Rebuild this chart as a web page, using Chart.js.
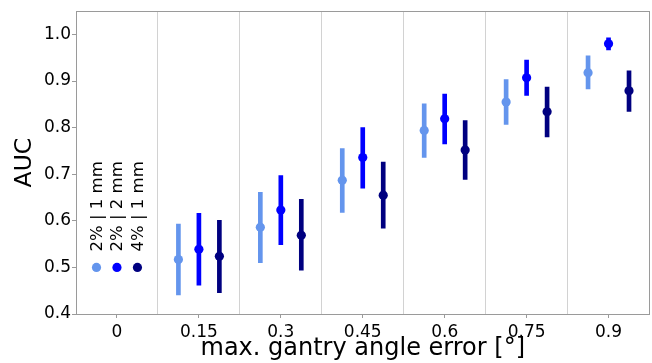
<!DOCTYPE html>
<html>
<head>
<meta charset="utf-8">
<script src="https://cdn.jsdelivr.net/npm/chart.js@4.4.1/dist/chart.umd.min.js"></script>
<style>
  html, body { margin: 0; padding: 0; background: #fff; }
  #wrap { width: 652px; height: 363px; }
</style>
</head>
<body>
<div id="wrap"><canvas id="c" width="652" height="363"></canvas></div>
<script>
// ---- data ----
const categories = ['0', '0.15', '0.3', '0.45', '0.6', '0.75', '0.9'];
const seriesNames = ['2% | 1 mm', '2% | 2 mm', '4% | 1 mm'];
const seriesColors = ['#6495ED', '#0000FF', '#000080'];
// values per category index 1..6 (category "0" has no data)
const auc_2_1 = [null, 0.517, 0.586, 0.687, 0.794, 0.855, 0.918];
const low_2_1 = [null, 0.441, 0.510, 0.618, 0.736, 0.807, 0.883];
const high_2_1 = [null, 0.593, 0.661, 0.755, 0.851, 0.903, 0.954];

const auc_2_2 = [null, 0.539, 0.623, 0.736, 0.819, 0.907, 0.980];
const low_2_2 = [null, 0.462, 0.549, 0.670, 0.765, 0.869, 0.967];
const high_2_2 = [null, 0.616, 0.697, 0.800, 0.872, 0.945, 0.993];

const auc_4_1 = [null, 0.524, 0.569, 0.655, 0.752, 0.834, 0.879];
const low_4_1 = [null, 0.446, 0.494, 0.584, 0.689, 0.780, 0.835];
const high_4_1 = [null, 0.601, 0.646, 0.726, 0.815, 0.887, 0.922];

const yTicks = [0.4, 0.5, 0.6, 0.7, 0.8, 0.9, 1.0];
const legendValue = 0.5;

const series = [
  { mid: auc_2_1, low: low_2_1, high: high_2_1 },
  { mid: auc_2_2, low: low_2_2, high: high_2_2 },
  { mid: auc_4_1, low: low_4_1, high: high_4_1 }
];
const offsets = [-0.25, 0, 0.25];

const datasets = [];
series.forEach((s, k) => {
  const pts = [], bars = [];
  s.mid.forEach((v, i) => {
    if (v === null) return;
    pts.push({ x: i + offsets[k], y: v });
    bars.push({ x: i + offsets[k], y: [s.low[i], s.high[i]] });
  });
  datasets.push({
    type: 'bar', label: seriesNames[k] + ' err', data: bars,
    backgroundColor: seriesColors[k], borderWidth: 0, borderSkipped: false,
    barThickness: 4, grouped: false, order: 2
  });
  datasets.push({
    type: 'scatter', label: seriesNames[k], data: pts,
    backgroundColor: seriesColors[k], borderWidth: 0,
    pointRadius: 4.6, pointHoverRadius: 4.6, order: 1
  });
});

const FONT = 'DejaVu Sans';
const frameColor = '#9a9a9a';

const framePlugin = {
  id: 'frame',
  afterDatasetsDraw(chart) {
    const { ctx, chartArea: a } = chart;
    ctx.save();
    ctx.strokeStyle = frameColor;
    ctx.lineWidth = 1;
    ctx.strokeRect(Math.round(a.left) + 0.5, Math.round(a.top) + 0.5,
      Math.round(a.right - a.left) - 1, Math.round(a.bottom - a.top));
    ctx.restore();
  }
};

const legendPlugin = {
  id: 'customLegend',
  afterDatasetsDraw(chart) {
    const { ctx, scales } = chart;
    const y = scales.y.getPixelForValue(legendValue);
    ctx.save();
    seriesNames.forEach((name, k) => {
      const x = scales.x.getPixelForValue(0 + offsets[k]);
      ctx.fillStyle = seriesColors[k];
      ctx.beginPath();
      ctx.arc(x, y, 4.6, 0, Math.PI * 2);
      ctx.fill();
      ctx.save();
      ctx.translate(x + 5.5, y - 16);
      ctx.rotate(-Math.PI / 2);
      ctx.fillStyle = '#000';
      ctx.font = '16.5px "' + FONT + '"';
      ctx.textAlign = 'left';
      ctx.textBaseline = 'alphabetic';
      ctx.fillText(name, 0, 0);
      ctx.restore();
    });
    ctx.restore();
  }
};

new Chart(document.getElementById('c'), {
  type: 'bar',
  data: { datasets },
  options: {
    responsive: false,
    animation: false,
    events: [],
    layout: { autoPadding: false, padding: { top: 11, right: 2.5, left: 0, bottom: 0 } },
    plugins: { legend: { display: false }, tooltip: { enabled: false } },
    scales: {
      x: {
        type: 'linear',
        offset: false,
        min: -0.5, max: 6.5,
        afterFit(s) { s.height = 49; s.paddingLeft = 0; s.paddingRight = 0; },
        afterBuildTicks(s) {
          const t = [];
          for (let v = -0.5; v <= 6.5001; v += 0.5) t.push({ value: Math.round(v * 10) / 10 });
          s.ticks = t;
        },
        border: { display: false },
        grid: {
          offset: false,
          drawOnChartArea: true,
          drawTicks: true,
          tickLength: 4,
          lineWidth: 1,
          color(ctx) {
            const v = ctx.tick ? ctx.tick.value : 0;
            if (v > -0.5 && v < 6.5 && !Number.isInteger(v)) return '#d2d2d2';
            return 'rgba(0,0,0,0)';
          },
          tickColor(ctx) {
            const v = ctx.tick ? ctx.tick.value : 0;
            return Number.isInteger(v) ? frameColor : 'rgba(0,0,0,0)';
          }
        },
        ticks: {
          autoSkip: false, maxRotation: 0, minRotation: 0,
          padding: 4,
          color: '#000',
          font: { family: FONT, size: 17 },
          callback(v) { return Number.isInteger(v) ? categories[v] : ''; }
        },
        title: {
          display: true,
          text: 'max. gantry angle error [°]',
          color: '#000',
          font: { family: FONT, size: 24, lineHeight: 1 },
          padding: { top: 0, bottom: 1.8 }
        }
      },
      y: {
        type: 'linear',
        min: 0.4, max: 1.05,
        afterFit(s) { s.width = 76; },
        afterBuildTicks(s) { s.ticks = yTicks.map(v => ({ value: v })); },
        border: { display: false },
        grid: {
          drawOnChartArea: false,
          drawTicks: true,
          tickLength: 4,
          tickColor: frameColor
        },
        ticks: {
          padding: 1,
          color: '#000',
          font: { family: FONT, size: 17 },
          callback(v) { return v.toFixed(1); }
        },
        title: {
          display: true,
          text: 'AUC',
          color: '#000',
          font: { family: FONT, size: 23.5, lineHeight: 1 },
          padding: { top: 13.2, bottom: 0 }
        }
      }
    }
  },
  plugins: [framePlugin, legendPlugin]
});
</script>
</body>
</html>
